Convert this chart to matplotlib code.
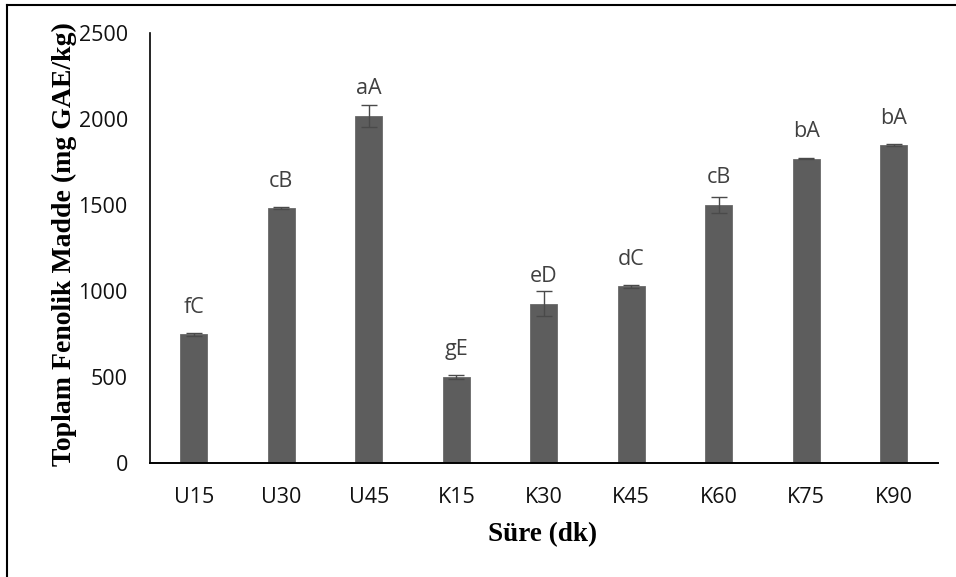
import matplotlib
matplotlib.use("Agg")
import matplotlib.pyplot as plt
from matplotlib.lines import Line2D

categories = ["U15", "U30", "U45", "K15", "K30", "K45", "K60", "K75", "K90"]
values = [748, 1482, 2018, 502, 927, 1027, 1500, 1770, 1848]
errors = [10, 4, 66, 12, 72, 8, 46, 5, 5]
letters = ["fC", "cB", "aA", "gE", "eD", "dC", "cB", "bA", "bA"]

W, H = 956, 577
fig = plt.figure(figsize=(W / 100, H / 100), dpi=100)
ax = fig.add_axes([150 / W, (H - 463) / H, 787.5 / W, 430 / H])

x = list(range(len(categories)))
bar_color = "#5d5d5d"
ax.bar(x, values, width=0.31, color=bar_color, edgecolor="#6a6a6a", linewidth=0.6, zorder=2)
ax.errorbar(x, values, yerr=errors, fmt="none", ecolor="#4a4a4a", elinewidth=1.0,
            capsize=6, capthick=1.0, zorder=3)

for xi, v, lab in zip(x, values, letters):
    ax.annotate(lab, (xi, v), xytext=(0, 19.5), textcoords="offset points",
                ha="center", va="center", fontsize=15.5, color="#404040",
                family="Open Sans")

ax.set_xlim(-0.5, len(categories) - 0.5)
ax.set_ylim(0, 2500)
ax.set_yticks([0, 500, 1000, 1500, 2000, 2500])
ax.set_xticks(x)
ax.set_xticklabels(categories)
for lbl in ax.get_xticklabels() + ax.get_yticklabels():
    lbl.set_family("Open Sans")
    lbl.set_fontsize(15.5)
    lbl.set_color("#111111")
ax.tick_params(axis="both", length=0)
ax.tick_params(axis="x", pad=17)
ax.tick_params(axis="y", pad=16)

for s in ["top", "right"]:
    ax.spines[s].set_visible(False)
ax.spines["left"].set_linewidth(1.2)
ax.spines["bottom"].set_linewidth(1.4)
ax.spines["left"].set_color("black")
ax.spines["bottom"].set_color("black")

fig.text(543 / W, 1 - 535 / H, "Süre (dk)", ha="center", va="center",
         fontsize=19.5, fontweight="bold", family="Liberation Serif")
fig.text(64 / W, 1 - 244 / H, "Toplam Fenolik Madde (mg GAE/kg)", ha="center", va="center",
         rotation=90, fontsize=20, fontweight="bold", family="Liberation Serif")

# figure border (top and left visible)
fig.add_artist(Line2D([7 / W, 1], [1 - 5 / H, 1 - 5 / H], transform=fig.transFigure,
                      color="black", linewidth=1.5))
fig.add_artist(Line2D([7 / W, 7 / W], [0, 1 - 5 / H], transform=fig.transFigure,
                      color="black", linewidth=1.5))

fig.savefig("out.png", dpi=100)
